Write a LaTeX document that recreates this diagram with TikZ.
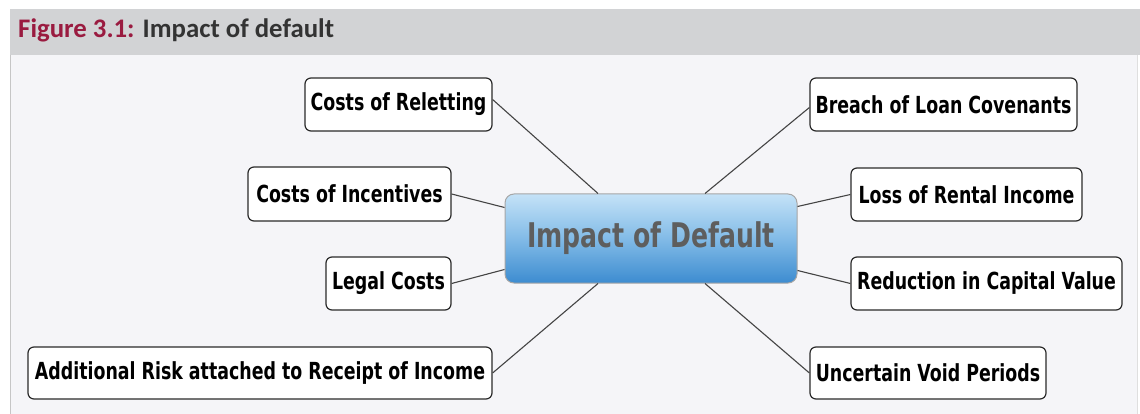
\documentclass[tikz,border=0pt]{standalone}
\usepackage{fontspec}
\setmainfont{DejaVu Sans}
\newfontfamily\nodefont[FakeStretch=0.74]{DejaVu Sans}
\newfontfamily\titlefont{Carlito}
\usetikzlibrary{calc}
\definecolor{hdrbg}{HTML}{D2D3D5}
\definecolor{pagebg}{HTML}{F5F5F8}
\definecolor{figred}{HTML}{9A1B40}
\definecolor{titlegray}{HTML}{333333}
\definecolor{boxline}{HTML}{2A2A2A}
\definecolor{linkgray}{HTML}{444444}
\definecolor{bluetop}{HTML}{C4E2F7}
\definecolor{bluemid}{HTML}{82BBE7}
\definecolor{bluebot}{HTML}{3D8CD0}
\definecolor{centertext}{HTML}{5E5E5E}
\tikzset{
  leaf/.style={draw=boxline, line width=1.2pt, fill=white, rounded corners=6pt,
    inner sep=0pt, align=center, text=black,
    font=\nodefont\bfseries\fontsize{23.5}{28}\selectfont},
  hub/.style={draw=gray!70, line width=1pt, rounded corners=9pt, inner sep=0pt,
    top color=bluetop, bottom color=bluebot, middle color=bluemid,
    text=centertext, font=\nodefont\bfseries\fontsize{34}{40}\selectfont,
    minimum width=292pt, minimum height=89pt},
  link/.style={draw=linkgray, line width=1.1pt}
}
\begin{document}
\begin{tikzpicture}[x=1pt,y=-1pt]
\useasboundingbox (0,0) rectangle (1140,414);
\fill[white] (0,0) rectangle (1140,414);
% header and panel
\fill[hdrbg] (10,9) rectangle (1140,55);
\fill[pagebg] (10,55) rectangle (1137,414);
\draw[gray!45, line width=1pt] (10.5,55) -- (10.5,414);
\draw[gray!25, line width=1pt] (1137,55) -- (1137,414);
\node[anchor=base west, inner sep=0pt, font=\titlefont\bfseries\fontsize{26.8}{30}\selectfont]
  (title) at (18,38) {\textcolor{figred}{Figure 3.1:} \textcolor{titlegray}{Impact of default}};
% central node
\node[hub] (center) at (651,238.5) {Impact of Default};
% leaves
\node[leaf, minimum width=187pt, minimum height=53pt] (relet) at (398.5,104.5) {Costs of Reletting};
\node[leaf, minimum width=203pt, minimum height=54pt] (incent) at (349.5,194) {Costs of Incentives};
\node[leaf, minimum width=125pt, minimum height=53pt] (legal) at (388.5,283.5) {Legal Costs};
\node[leaf, minimum width=464pt, minimum height=52pt] (addrisk) at (260,373) {Additional Risk attached to Receipt of Income};
\node[leaf, minimum width=267pt, minimum height=53pt] (breach) at (943.5,104.5) {Breach of Loan Covenants};
\node[leaf, minimum width=231pt, minimum height=53pt] (loss) at (966.5,194.5) {Loss of Rental Income};
\node[leaf, minimum width=271pt, minimum height=53pt] (reduc) at (986.5,283.5) {Reduction in Capital Value};
\node[leaf, minimum width=236pt, minimum height=52pt] (void) at (928,373) {Uncertain Void Periods};
% connectors
\draw[link] ([yshift=5pt]relet.east) -- ([xshift=-53pt]center.north);
\draw[link] (incent.east) -- ([yshift=31pt]center.west);
\draw[link] (legal.east) -- ([yshift=-31pt]center.west);
\draw[link] (addrisk.east) -- ([xshift=-53pt]center.south);
\draw[link] ([yshift=-3pt]breach.west) -- ([xshift=54pt]center.north);
\draw[link] (loss.west) -- ([yshift=32pt]center.east);
\draw[link] (reduc.west) -- ([yshift=-32pt]center.east);
\draw[link] (void.west) -- ([xshift=54pt]center.south);
\end{tikzpicture}
\end{document}
